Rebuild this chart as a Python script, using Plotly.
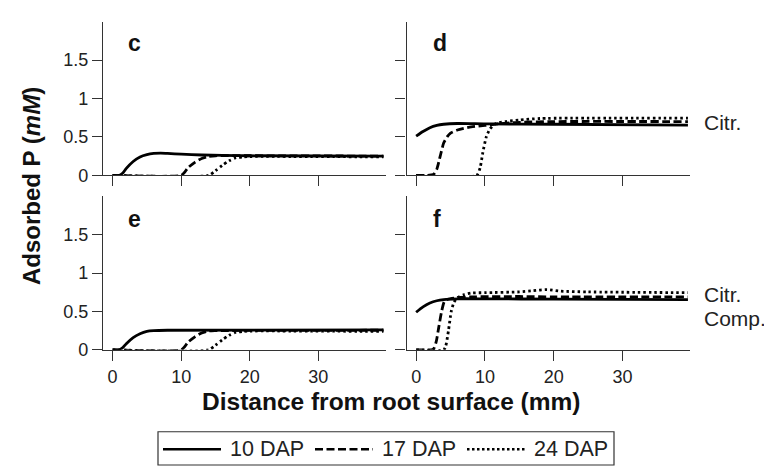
import plotly.graph_objects as go

# ---------------- data ----------------
dap_labels = ["10 DAP", "17 DAP", "24 DAP"]
panel_letters = ["c", "d", "e", "f"]

# panel c
c_x10 = [0, 1.0, 1.5, 2, 3, 4, 5, 6, 7, 8, 10, 13, 16, 20, 39.5]
c_y10 = [0, 0, 0.03, 0.09, 0.18, 0.24, 0.27, 0.285, 0.29, 0.285, 0.275, 0.265, 0.26, 0.255, 0.25]
c_x17 = [0, 10, 10.5, 11, 12, 13, 14, 15, 20, 39.5]
c_y17 = [0, 0, 0.04, 0.1, 0.17, 0.22, 0.245, 0.255, 0.255, 0.25]
c_x24 = [0, 14, 15, 16, 17, 18, 19, 20, 39.5]
c_y24 = [0, 0, 0.06, 0.13, 0.19, 0.23, 0.24, 0.245, 0.24]

# panel d
d_x10 = [0, 1, 2, 3, 4, 6, 10, 20, 39.5]
d_y10 = [0.51, 0.57, 0.62, 0.65, 0.665, 0.675, 0.67, 0.665, 0.655]
d_x17 = [0, 2.5, 3, 3.5, 4, 4.5, 5, 6, 8, 10, 12, 15, 20, 39.5]
d_y17 = [0, 0.01, 0.08, 0.25, 0.42, 0.5, 0.55, 0.59, 0.63, 0.65, 0.67, 0.69, 0.70, 0.70]
d_x24 = [0, 8.8, 9.3, 9.7, 10.2, 10.7, 11.5, 13, 15, 18, 39.5]
d_y24 = [0, 0, 0.1, 0.3, 0.5, 0.6, 0.67, 0.7, 0.72, 0.74, 0.745]

# panel e
e_x10 = [0, 1.0, 1.5, 2, 3, 4, 5, 6, 8, 39.5]
e_y10 = [0, 0, 0.03, 0.08, 0.16, 0.21, 0.24, 0.25, 0.255, 0.26]
e_x17 = [0, 10, 10.5, 11, 12, 13, 14, 15, 39.5]
e_y17 = [0, 0, 0.04, 0.1, 0.17, 0.22, 0.245, 0.25, 0.255]
e_x24 = [0, 14, 15, 16, 17, 18, 19, 20, 39.5]
e_y24 = [0, 0, 0.06, 0.13, 0.19, 0.23, 0.24, 0.245, 0.24]

# panel f
f_x10 = [0, 1, 2, 3, 4, 6, 10, 20, 39.5]
f_y10 = [0.49, 0.56, 0.61, 0.64, 0.655, 0.665, 0.665, 0.66, 0.655]
f_x17 = [0, 2.5, 2.9, 3.3, 3.7, 4.1, 4.6, 6, 8, 15, 20, 39.5]
f_y17 = [0, 0.01, 0.1, 0.3, 0.5, 0.63, 0.66, 0.68, 0.69, 0.695, 0.69, 0.69]
f_x24 = [0, 4, 4.3, 4.7, 5.1, 5.5, 6, 7, 8, 10, 15, 17, 19, 21, 25, 39.5]
f_y24 = [0, 0, 0.05, 0.25, 0.5, 0.62, 0.68, 0.72, 0.74, 0.745, 0.755, 0.77, 0.785, 0.765, 0.755, 0.745]

x_ticks = [0, 10, 20, 30]
y_ticks = [0, 0.5, 1, 1.5]
y_ticktext = ["0", "0.5", "1", "1.5"]

# ---------------- figure ----------------
W, H = 772, 468
FONT = "Liberation Sans, Arial, Helvetica, sans-serif"
dashes = ["solid", "8px,3.5px", "2.5px,3px"]

fig = go.Figure()

panels = [
    ([c_x10, c_x17, c_x24], [c_y10, c_y17, c_y24], "x", "y"),
    ([d_x10, d_x17, d_x24], [d_y10, d_y17, d_y24], "x2", "y2"),
    ([e_x10, e_x17, e_x24], [e_y10, e_y17, e_y24], "x3", "y3"),
    ([f_x10, f_x17, f_x24], [f_y10, f_y17, f_y24], "x4", "y4"),
]
for xs, ys, xa, ya in panels:
    for i in range(3):
        fig.add_trace(go.Scatter(
            x=xs[i], y=ys[i], mode="lines", xaxis=xa, yaxis=ya,
            line=dict(color="black", width=2.8, dash=dashes[i], shape="spline", smoothing=0.6),
            name=dap_labels[i], showlegend=False, hoverinfo="skip"))

def px_x(p):
    return p / W

def px_y(p):
    return 1 - p / H

left_dom = [px_x(95), px_x(377.5)]
right_dom = [px_x(398.5), px_x(682)]
top_dom = [px_y(171), px_y(14)]
bot_dom = [px_y(349.3), px_y(192.5)]

axis_common = dict(showline=True, linecolor="#333", linewidth=1.2, ticks="outside",
                   ticklen=10, tickwidth=1.2, tickcolor="#333", showgrid=False,
                   zeroline=False, tickfont=dict(family=FONT, size=18, color="#222"))

xr = [-1.4, 39.8]
yr = [0, 2.0]
fig.update_layout(
    xaxis=dict(domain=left_dom, anchor="y", range=xr, tickvals=x_ticks, showticklabels=False, **axis_common),
    yaxis=dict(domain=top_dom, anchor="x", range=yr, tickvals=y_ticks, ticktext=y_ticktext, **axis_common),
    xaxis2=dict(domain=right_dom, anchor="y2", range=xr, tickvals=x_ticks, showticklabels=False, **axis_common),
    yaxis2=dict(domain=top_dom, anchor="x2", range=yr, tickvals=y_ticks, showticklabels=False, **axis_common),
    xaxis3=dict(domain=left_dom, anchor="y3", range=xr, tickvals=x_ticks, **axis_common),
    yaxis3=dict(domain=bot_dom, anchor="x3", range=yr, tickvals=y_ticks, ticktext=y_ticktext, **axis_common),
    xaxis4=dict(domain=right_dom, anchor="y4", range=xr, tickvals=x_ticks, **axis_common),
    yaxis4=dict(domain=bot_dom, anchor="x4", range=yr, tickvals=y_ticks, showticklabels=False, **axis_common),
    width=W, height=H, margin=dict(l=0, r=0, t=0, b=0),
    plot_bgcolor="white", paper_bgcolor="white", showlegend=False,
    font=dict(family=FONT, color="#222"),
)

ann = []
# panel letters
letter_pos = [(118, 51), (423, 51), (118, 231), (423, 231)]
for lt, (lx, ly) in zip(panel_letters, letter_pos):
    ann.append(dict(text="<b>%s</b>" % lt, xref="paper", yref="paper", x=px_x(lx), y=px_y(ly),
                    xanchor="left", yanchor="bottom", showarrow=False,
                    font=dict(family=FONT, size=23, color="#111")))
# side labels
side_font = dict(family=FONT, size=21, color="#222")
ann.append(dict(text="Citr.", xref="paper", yref="paper", x=px_x(694), y=px_y(117),
                xanchor="left", yanchor="middle", showarrow=False, font=side_font))
ann.append(dict(text="Citr.", xref="paper", yref="paper", x=px_x(694), y=px_y(293),
                xanchor="left", yanchor="middle", showarrow=False, font=side_font))
ann.append(dict(text="Comp.", xref="paper", yref="paper", x=px_x(694), y=px_y(317),
                xanchor="left", yanchor="middle", showarrow=False, font=side_font))
# axis titles
ann.append(dict(text="<b>Adsorbed P (<i>mM</i>)</b>", xref="paper", yref="paper", x=px_x(23), y=px_y(182),
                xanchor="center", yanchor="middle", textangle=-90, showarrow=False,
                font=dict(family=FONT, size=24, color="#111")))
ann.append(dict(text="<b>Distance from root surface (mm)</b>", xref="paper", yref="paper",
                x=px_x(383), y=px_y(402), xanchor="center", yanchor="middle", showarrow=False,
                font=dict(family=FONT, size=24.5, color="#111")))

# manual legend
shapes = []
shapes.append(dict(type="rect", xref="paper", yref="paper", x0=px_x(150), x1=px_x(606),
                   y0=px_y(467), y1=px_y(433), line=dict(color="#333", width=1.2)))
leg_line_x = [(155, 213), (307, 365), (459, 517)]
leg_text_x = [220, 372, 524]
for i in range(3):
    shapes.append(dict(type="line", xref="paper", yref="paper",
                       x0=px_x(leg_line_x[i][0]), x1=px_x(leg_line_x[i][1]),
                       y0=px_y(451), y1=px_y(451),
                       line=dict(color="black", width=2.5, dash=["solid", "8px,3.5px", "2.5px,2.5px"][i])))
    ann.append(dict(text=dap_labels[i], xref="paper", yref="paper", x=px_x(leg_text_x[i]), y=px_y(451),
                    xanchor="left", yanchor="middle", showarrow=False,
                    font=dict(family=FONT, size=21.5, color="#222")))

fig.update_layout(annotations=ann, shapes=shapes)
fig.write_html("out.html")
